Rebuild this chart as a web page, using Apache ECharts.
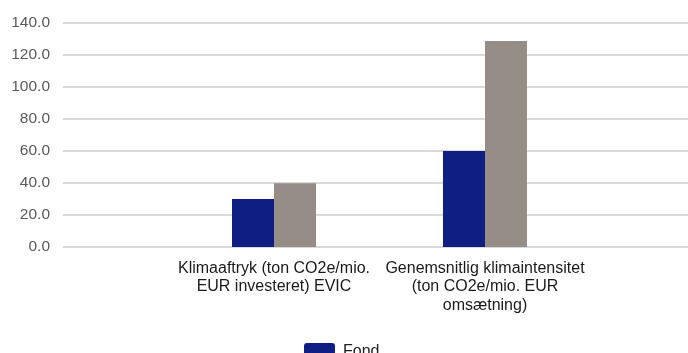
<!DOCTYPE html>
<html>
<head>
<meta charset="utf-8">
<script src="https://cdn.jsdelivr.net/npm/echarts@6/dist/echarts.min.js"></script>
<style>
  html, body { margin: 0; padding: 0; background: #fff; overflow: hidden; }
  /* the plot area runs a little past the right edge in the original */
  #chart { width: 699px; height: 353px; }
</style>
</head>
<body>
<div id="chart"></div>
<script>
// categories (empty ones pad the axis so the groups sit on the ticks)
const categories = [
  '',
  'Klimaaftryk (ton CO2e/mio.\nEUR investeret) EVIC',
  'Genemsnitlig klimaintensitet\n(ton CO2e/mio. EUR\nomsætning)',
  ''
];
const fondValues = [null, 30.0, 60.0, null];
const benchmarkValues = [null, 39.8, 128.8, null];
const seriesNames = ['Fond', 'Benchmark'];

const chart = echarts.init(document.getElementById('chart'));

const option = {
  animation: false,
  textStyle: { fontFamily: 'Liberation Sans, Arial, sans-serif' },
  grid: {
    left: 63,
    right: 0,
    top: 23,
    height: 224
  },
  legend: {
    left: 299,
    top: 338,
    itemWidth: 31,
    itemHeight: 12,
    formatter: name => '{t|' + name + '}',
    textStyle: {
      rich: {
        t: { fontSize: 16, color: '#222', padding: [5, 0, 0, 3] }
      }
    },
    data: [seriesNames[0]]  // second legend row is cut off in the original
  },
  xAxis: {
    type: 'category',
    data: categories,
    boundaryGap: false,
    axisLine: { show: false },
    axisTick: { show: false },
    axisLabel: {
      interval: 0,
      fontSize: 16,
      color: '#1a1a1a',
      lineHeight: 18.5,
      margin: 12
    }
  },
  yAxis: {
    type: 'value',
    min: 0,
    max: 140,
    interval: 20,
    axisLine: { show: false },
    axisTick: { show: false },
    axisLabel: {
      fontSize: 15.5,
      color: '#595959',
      margin: 13,
      formatter: v => v.toFixed(1)
    },
    splitLine: { lineStyle: { color: '#d9d9d9', width: 2 } }
  },
  series: [
    {
      name: seriesNames[0],
      type: 'bar',
      data: fondValues,
      barWidth: 42,
      barGap: '0%',
      itemStyle: { color: '#0f1e82' }
    },
    {
      name: seriesNames[1],
      type: 'bar',
      data: benchmarkValues,
      barWidth: 42,
      itemStyle: { color: '#958d86' }
    }
  ]
};

chart.setOption(option);
</script>
</body>
</html>
